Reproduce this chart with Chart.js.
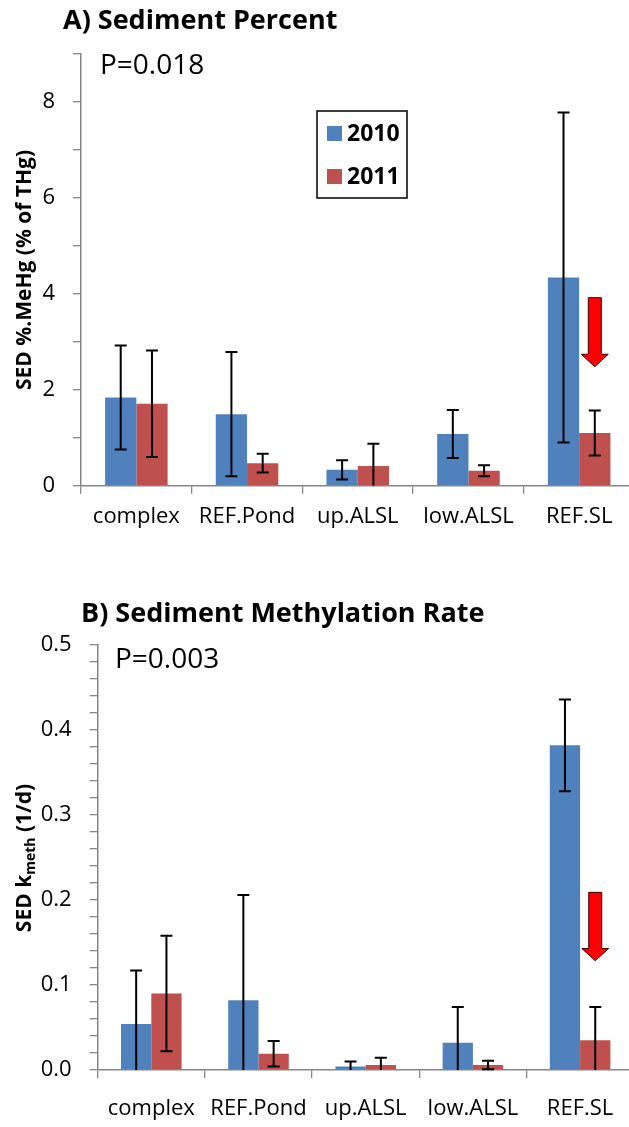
<!DOCTYPE html>
<html>
<head>
<meta charset="utf-8">
<script src="https://cdn.jsdelivr.net/npm/chart.js@4.4.1/dist/chart.umd.min.js"></script>
<style>
html, body { margin: 0; padding: 0; background: #fff; overflow: hidden; width: 629px; height: 1127px; }
canvas { display: block; }
</style>
</head>
<body>
<canvas id="chartA" width="640" height="545"></canvas>
<canvas id="chartB" width="640" height="582"></canvas>
<script>
const sites = ['complex', 'REF.Pond', 'up.ALSL', 'low.ALSL', 'REF.SL'];
const years = ['2010', '2011'];

// A) sediment %MeHg (% of THg), mean and SD
const pctMeHg2010 = [1.84, 1.49, 0.33, 1.08, 4.34];
const pctMeHg2011 = [1.71, 0.47, 0.41, 0.31, 1.10];
const pctSd2010 = [1.085, 1.295, 0.20, 0.50, 3.44];
const pctSd2011 = [1.11, 0.195, 0.465, 0.115, 0.47];

// B) sediment methylation rate k_meth (1/d), mean and SD
const kmeth2010 = [0.054, 0.082, 0.004, 0.032, 0.382];
const kmeth2011 = [0.090, 0.019, 0.006, 0.006, 0.035];
const kmethSd2010 = [0.063, 0.124, 0.006, 0.042, 0.054];
const kmethSd2011 = [0.068, 0.015, 0.0085, 0.005, 0.039];

const pctTicks = [0, 2, 4, 6, 8];
const kmethTicks = [0, 0.1, 0.2, 0.3, 0.4, 0.5];

const BLUE = '#4F81BD';
const RED = '#C0504D';
const AXIS = '#868686';
const FONT = "'Open Sans', sans-serif";

function drawErrorBars(chart, sds) {
    const ctx = chart.ctx;
    const y = chart.scales.y;
    ctx.save();
    ctx.strokeStyle = '#000';
    ctx.lineWidth = 2;
    chart.data.datasets.forEach((ds, i) => {
        chart.getDatasetMeta(i).data.forEach((bar, j) => {
            const v = ds.data[j];
            const e = sds[i][j];
            const hi = y.getPixelForValue(v + e);
            const lowVal = v - e;
            const lo = y.getPixelForValue(Math.max(lowVal, y.min));
            ctx.beginPath();
            ctx.moveTo(bar.x, hi);
            ctx.lineTo(bar.x, lo);
            ctx.moveTo(bar.x - 6, hi);
            ctx.lineTo(bar.x + 6, hi);
            if (lowVal >= y.min) {
                ctx.moveTo(bar.x - 6, lo);
                ctx.lineTo(bar.x + 6, lo);
            }
            ctx.stroke();
        });
    });
    ctx.restore();
}

function drawArrow(chart, arrow) {
    const ctx = chart.ctx;
    const y = chart.scales.y;
    const cx = chart.getDatasetMeta(1).data[4].x;
    const top = y.getPixelForValue(arrow.top);
    const neck = y.getPixelForValue(arrow.neck);
    const tip = y.getPixelForValue(arrow.tip);
    ctx.save();
    ctx.beginPath();
    ctx.moveTo(cx - 6.5, top);
    ctx.lineTo(cx + 6.5, top);
    ctx.lineTo(cx + 6.5, neck);
    ctx.lineTo(cx + 13.5, neck);
    ctx.lineTo(cx, tip);
    ctx.lineTo(cx - 13.5, neck);
    ctx.lineTo(cx - 6.5, neck);
    ctx.closePath();
    ctx.fillStyle = '#FF0000';
    ctx.fill();
    ctx.strokeStyle = '#3a0000';
    ctx.lineWidth = 1;
    ctx.stroke();
    ctx.restore();
}

function drawYTitle(ctx, x, y, parts) {
    ctx.save();
    ctx.translate(x, y);
    ctx.rotate(-Math.PI / 2);
    ctx.fillStyle = '#000';
    ctx.textBaseline = 'middle';
    let total = 0;
    parts.forEach(p => {
        ctx.font = 'bold ' + p.size + 'px ' + FONT;
        total += ctx.measureText(p.text).width;
    });
    let cur = -total / 2;
    parts.forEach(p => {
        ctx.font = 'bold ' + p.size + 'px ' + FONT;
        ctx.textAlign = 'left';
        ctx.fillText(p.text, cur, p.shift || 0);
        cur += ctx.measureText(p.text).width;
    });
    ctx.restore();
}

function drawLegend(chart) {
    const ctx = chart.ctx;
    ctx.save();
    ctx.strokeStyle = '#000';
    ctx.lineWidth = 1.5;
    ctx.strokeRect(317, 111, 90, 87);
    ctx.font = 'bold 23px ' + FONT;
    ctx.textBaseline = 'middle';
    ctx.textAlign = 'left';
    chart.data.datasets.forEach((ds, i) => {
        const top = 126 + i * 43;
        ctx.fillStyle = ds.backgroundColor;
        ctx.fillRect(327, top, 15, 15);
        ctx.fillStyle = '#000';
        ctx.fillText(ds.label, 347, top + 8);
    });
    ctx.restore();
}

function makeChart(id, cfg) {
    const extras = {
        id: 'extras',
        afterDatasetsDraw(chart) {
            const ctx = chart.ctx;
            drawErrorBars(chart, cfg.sds);
            drawArrow(chart, cfg.arrow);
            ctx.save();
            ctx.fillStyle = '#000';
            ctx.textBaseline = 'middle';
            ctx.textAlign = 'left';
            ctx.font = 'bold 27px ' + FONT;
            ctx.fillText(cfg.title, cfg.titleX, cfg.titleY);
            ctx.font = '28px ' + FONT;
            ctx.fillText(cfg.pText, cfg.pX, cfg.pY);
            ctx.restore();
            drawYTitle(ctx, 25, cfg.yTitleY, cfg.yTitle);
            if (cfg.legend) drawLegend(chart);
        }
    };

    return new Chart(document.getElementById(id), {
        type: 'bar',
        data: {
            labels: sites,
            datasets: [
                { label: years[0], data: cfg.data[0], backgroundColor: BLUE },
                { label: years[1], data: cfg.data[1], backgroundColor: RED }
            ]
        },
        options: {
            responsive: false,
            animation: false,
            devicePixelRatio: 1,
            categoryPercentage: 0.565,
            barPercentage: 1.0,
            layout: { padding: { top: cfg.padTop, right: cfg.padRight, left: 0, bottom: 0 } },
            plugins: { legend: { display: false }, tooltip: { enabled: false } },
            scales: {
                x: {
                    grid: { offset: true, drawOnChartArea: false, color: AXIS, tickLength: 8, lineWidth: 1.3 },
                    border: { color: AXIS, width: 1.5 },
                    ticks: { color: '#000', font: { family: FONT, size: 22 }, padding: cfg.xPad, maxRotation: 0, autoSkip: false },
                    afterFit(scale) { scale.height = cfg.xHeight; }
                },
                y: {
                    min: 0,
                    max: cfg.yMax,
                    grid: { drawOnChartArea: false, color: AXIS, tickLength: 8, lineWidth: 1.3 },
                    border: { color: AXIS, width: 1.5 },
                    ticks: {
                        stepSize: cfg.minorStep,
                        autoSkip: false,
                        color: '#000',
                        font: { family: FONT, size: 22 },
                        padding: 18,
                        callback: cfg.tickLabel
                    },
                    afterFit(scale) { scale.width = cfg.yWidth; }
                }
            }
        },
        plugins: [extras]
    });
}

makeChart('chartA', {
    data: [pctMeHg2010, pctMeHg2011],
    sds: [pctSd2010, pctSd2011],
    yMax: 9,
    minorStep: 1,
    tickLabel: v => pctTicks.includes(v) ? String(v) : '',
    padTop: 54,
    padRight: 5.5,
    yWidth: 81,
    xHeight: 59.3,
    xPad: 10,
    title: 'A) Sediment Percent', titleX: 63, titleY: 21,
    pText: 'P=0.018', pX: 100, pY: 66,
    yTitle: [{ text: 'SED %.MeHg (% of THg)', size: 21 }],
    yTitleY: 270,
    arrow: { top: 3.92, neck: 2.74, tip: 2.48 },
    legend: true
});

makeChart('chartB', {
    data: [kmeth2010, kmeth2011],
    sds: [kmethSd2010, kmethSd2011],
    yMax: 0.5,
    minorStep: 0.02,
    tickLabel: v => {
        const t = kmethTicks.find(k => Math.abs(k - v) < 1e-6);
        return t === undefined ? '' : t.toFixed(1);
    },
    padTop: 100,
    padRight: 6.3,
    yWidth: 97.7,
    xHeight: 57,
    xPad: 18,
    title: 'B) Sediment Methylation Rate', titleX: 81, titleY: 69,
    pText: 'P=0.003', pX: 115, pY: 115,
    yTitle: [
        { text: 'SED k', size: 21 },
        { text: 'meth', size: 14, shift: 6 },
        { text: ' (1/d)', size: 21 }
    ],
    yTitleY: 313,
    arrow: { top: 0.209, neck: 0.143, tip: 0.1286 },
    legend: false
});
</script>
</body>
</html>
